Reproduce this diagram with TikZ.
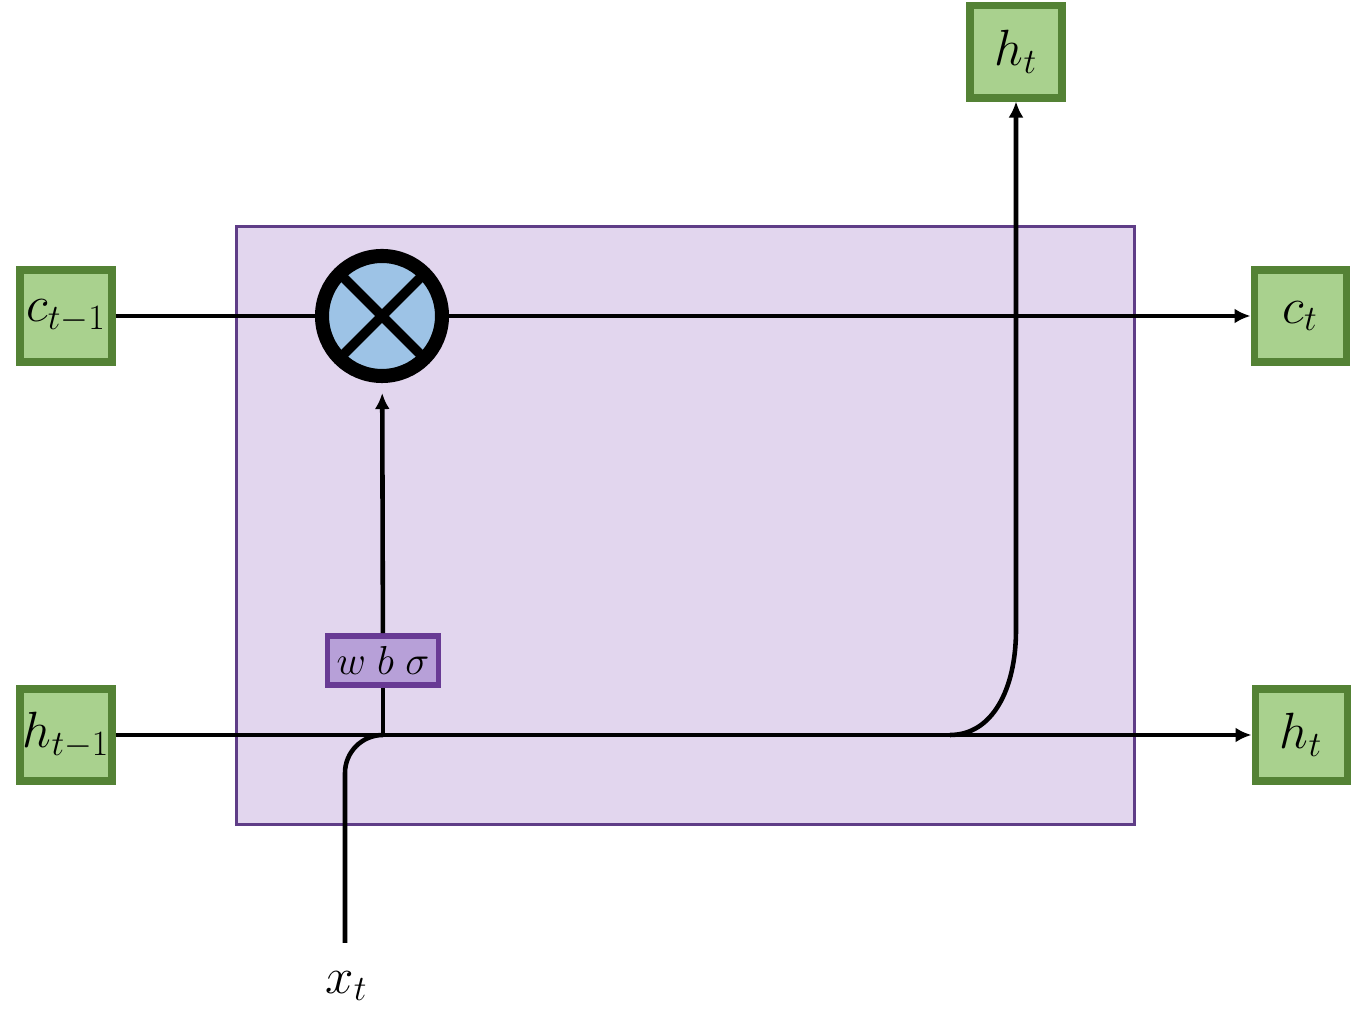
\RequirePackage{fix-cm}
\documentclass[tikz,border=0pt]{standalone}
\usepackage{amsmath}
\usetikzlibrary{arrows.meta, positioning}
\definecolor{cellfill}{HTML}{E2D6EE}
\definecolor{celledge}{HTML}{5F3D87}
\definecolor{vecfill}{HTML}{A9D18E}
\definecolor{vecedge}{HTML}{548235}
\definecolor{gatefill}{HTML}{B7A0D8}
\definecolor{gateedge}{HTML}{683A94}
\definecolor{multfill}{HTML}{9DC3E6}
\tikzstyle{cell} = [rectangle, minimum width=17.96cm, minimum height=11.96cm, draw=celledge, line width=2.1pt, fill=cellfill]
\tikzstyle{vec} = [rectangle, minimum size=1.84cm, inner sep=0pt, draw=vecedge, line width=4pt, fill=vecfill, font=\fontsize{29}{33}\selectfont]
\tikzstyle{gate} = [rectangle, minimum width=2.22cm, minimum height=0.98cm, inner sep=0pt, draw=gateedge, line width=3.2pt, fill=gatefill, font=\fontsize{23}{27}\selectfont]
\tikzstyle{mult} = [circle, minimum size=2.4cm, inner sep=0pt, draw=black, line width=8pt, fill=multfill,
  path picture={\draw[line width=5.5pt] (path picture bounding box.north west) -- (path picture bounding box.south east)
  (path picture bounding box.north east) -- (path picture bounding box.south west);}]
\tikzstyle{wire} = [line width=2.6pt]
\tikzstyle{arrow} = [line width=2.6pt, -{Latex[length=3.2mm,width=3mm]}]

\begin{document}
\begin{tikzpicture}[every node/.style={font=\fontsize{29}{33}\selectfont}]
    \useasboundingbox (0,0) rectangle (27.16,20.18);
    \node (cell) [cell] at (13.71,9.67) {};

    \node (cprev) [vec] at (1.32,13.86) {$c_{t-1}$};
    \node (hprev) [vec] at (1.32,5.48) {$h_{t-1}$};
    \node (cnext) [vec] at (26.00,13.86) {$c_t$};
    \node (hnext) [vec] at (26.02,5.48) {$h_t$};
    \node (hout) [vec] at (20.32,19.14) {$h_t$};

    \node (mult) [mult] at (7.64,13.86) {};
    \node (gate) [gate] at (7.66,6.97) {$w\;b\;\sigma$};

    \coordinate (join) at (gate.south |- hprev);
    \coordinate (branch) at (19.00,5.48);
    \coordinate (xin) at (6.90,1.32);
    \node (xt) at (6.93,0.46) {$x_t$};

    \draw [wire] (cprev) -- (mult);
    \draw [arrow] (mult) -- (cnext);
    \draw [arrow] (hprev) -- (hnext);

    \draw [wire, rounded corners=0.76cm] (xin) |- (join);
    \draw [wire] (join) -- (gate);
    \draw [arrow, shorten >=0.2cm] (gate) -- (mult);

    \draw [arrow] (branch) .. controls (19.85,5.48) and (20.32,6.4) .. (20.32,7.58) -- (hout);
\end{tikzpicture}
\end{document}
